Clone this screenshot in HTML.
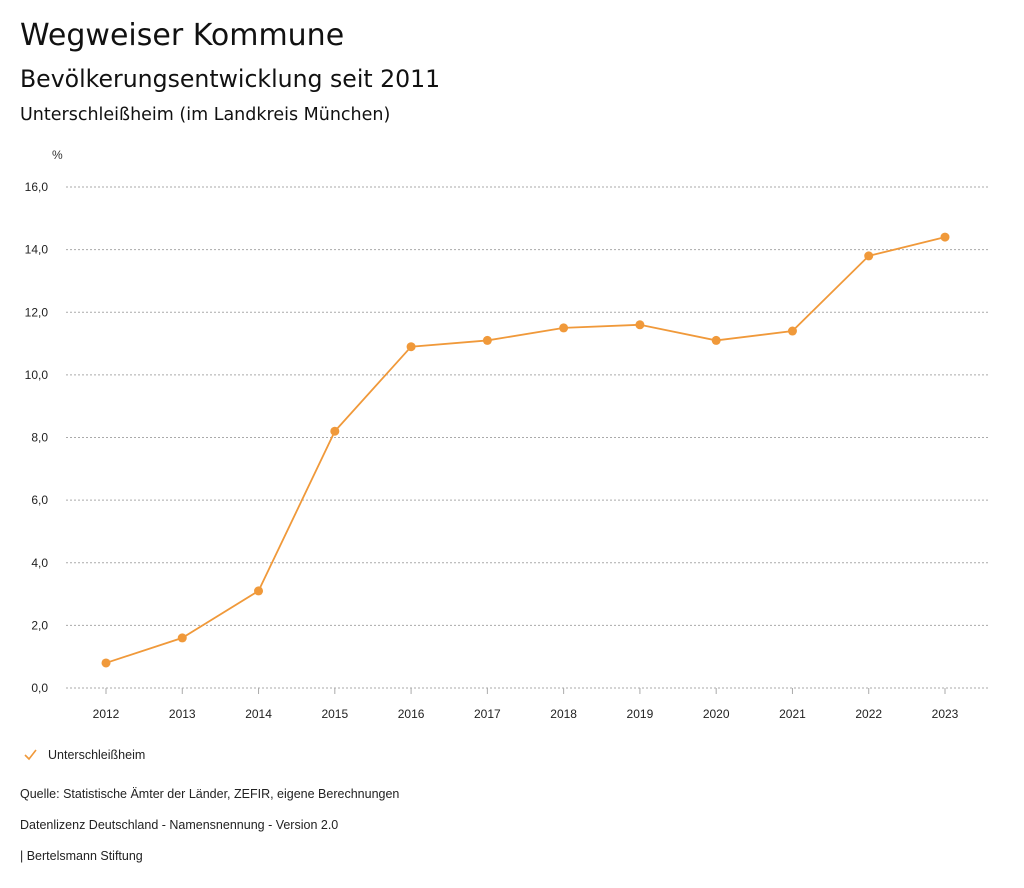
<!DOCTYPE html>
<html><head><meta charset="utf-8">
<style>
body{margin:0;width:1024px;height:888px;background:#fff;font-family:"Liberation Sans",sans-serif;color:#111;overflow:hidden}
.t{position:absolute;left:20px;white-space:nowrap;font-family:"DejaVu Sans",sans-serif}
</style></head><body>
<div class="t" style="top:18px;font-size:30px">Wegweiser Kommune</div>
<div class="t" style="top:65px;font-size:23.6px">Bevölkerungsentwicklung seit 2011</div>
<div class="t" style="top:105px;font-size:17.5px">Unterschleißheim (im Landkreis München)</div>
<svg id="chart" width="1024" height="888" style="position:absolute;left:0;top:0;font-family:'Liberation Sans',sans-serif">
<text x="52" y="159" font-size="12" fill="#333">%</text>
<g id="grid"></g><g id="xt"></g><g id="series"></g>
<g>
<polyline points="25,755 29,759 36,750" fill="none" stroke="#f0993a" stroke-width="1.6"/>
<text x="48" y="759" font-size="12.5" fill="#222">Unterschleißheim</text></g>
<text x="20" y="798" font-size="12.5" fill="#222">Quelle: Statistische Ämter der Länder, ZEFIR, eigene Berechnungen</text>
<text x="20" y="829" font-size="12.5" fill="#222">Datenlizenz Deutschland - Namensnennung - Version 2.0</text>
<text x="20" y="860" font-size="12.5" fill="#222">| Bertelsmann Stiftung</text>
</svg>
<script>
const years=["2012","2013","2014","2015","2016","2017","2018","2019","2020","2021","2022","2023"];
const values=[0.8,1.6,3.1,8.2,10.9,11.1,11.5,11.6,11.1,11.4,13.8,14.4];
const yTicks=[0,2,4,6,8,10,12,14,16];
const yTickLabels=["0,0","2,0","4,0","6,0","8,0","10,0","12,0","14,0","16,0"];
const NS="http://www.w3.org/2000/svg";
const y=v=>688-v*(501/16);
const x=i=>106+i*(839/(years.length-1));
function mk(t,a,p){const e=document.createElementNS(NS,t);for(const k in a)e.setAttribute(k,a[k]);p.appendChild(e);return e;}
const grid=document.getElementById('grid'),xt=document.getElementById('xt'),ser=document.getElementById('series');
yTicks.forEach((v,i)=>{
 const l=mk('line',{x1:66,x2:990,y1:y(v),y2:y(v),stroke:'#aaa','stroke-dasharray':'2,2','stroke-width':1},grid);
 
 
 const t=mk('text',{x:48,y:y(v)+4,'font-size':12,'text-anchor':'end',fill:'#222'},grid);t.textContent=yTickLabels[i];
 
 
});
years.forEach((yr,i)=>{
 mk('line',{x1:x(i),x2:x(i),y1:688,y2:694,stroke:'#aaa'},xt);
 const t=mk('text',{x:x(i),y:718,'font-size':12,'text-anchor':'middle',fill:'#222'},xt);t.textContent=yr;
 
 
});
const pl=mk('polyline',{points:values.map((v,i)=>x(i)+','+y(v)).join(' '),fill:'none',stroke:'#f0993a','stroke-width':1.8},ser);


values.forEach((v,i)=>{
 const c=mk('circle',{cx:x(i),cy:y(v),r:4.5,fill:'#f0993a'},ser);
 
 
});
</script>
</body></html>
